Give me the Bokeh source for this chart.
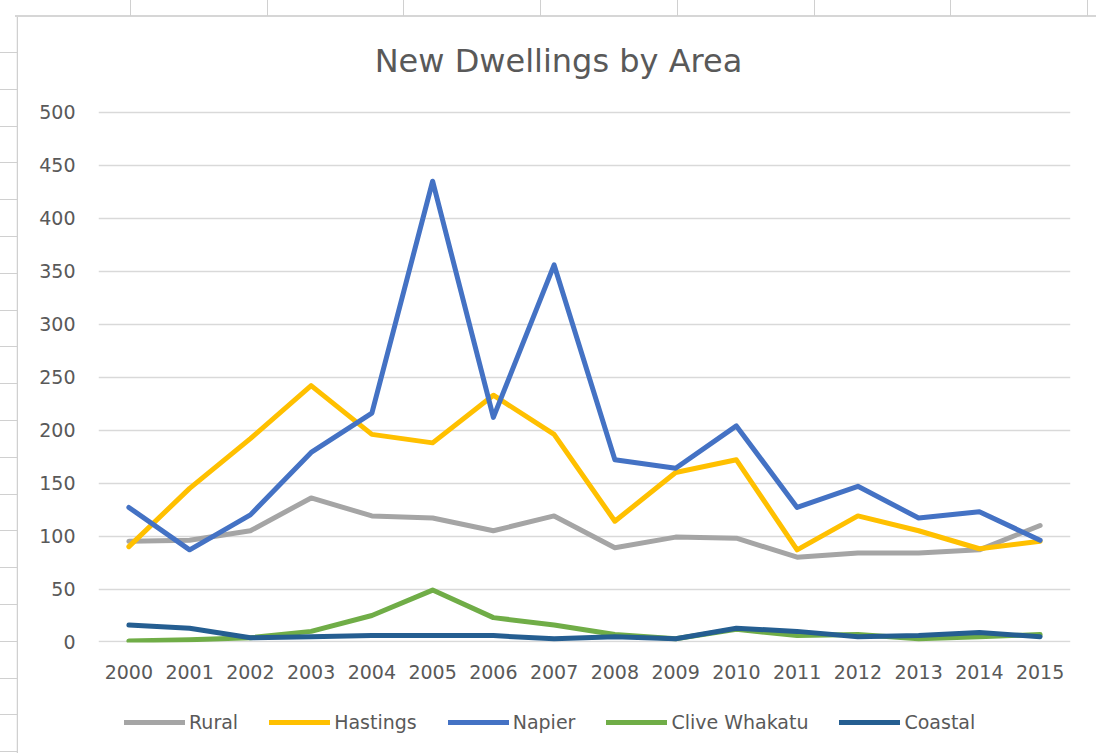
from bokeh.plotting import figure
from bokeh.models import Legend, LegendItem, Div, FixedTicker, Range1d, Label
from bokeh.layouts import column, row
from bokeh.embed import file_html
from bokeh.resources import INLINE

years = [str(y) for y in range(2000, 2016)]
rural = [95, 96, 105, 136, 119, 117, 105, 119, 89, 99, 98, 80, 84, 84, 87, 110]
hastings = [90, 145, 192, 242, 196, 188, 233, 196, 114, 160, 172, 87, 119, 105, 88, 95]
napier = [127, 87, 120, 179, 216, 435, 212, 356, 172, 164, 204, 127, 147, 117, 123, 96]
clive = [1, 2, 4, 10, 25, 49, 23, 16, 7, 3, 12, 6, 7, 3, 5, 7]
coastal = [16, 13, 4, 5, 6, 6, 6, 3, 5, 3, 13, 10, 5, 6, 9, 5]
series_names = ["Rural", "Hastings", "Napier", "Clive Whakatu", "Coastal"]
series_values = [rural, hastings, napier, clive, coastal]
series_colors = ["#A5A5A5", "#FFC000", "#4472C4", "#70AD47", "#255E91"]
y_ticks = list(range(0, 501, 50))
title_text = "New Dwellings by Area"

FONT = "DejaVu Sans"
TXT = "#595959"

# frame spans from the chart top down to the value 0; the upper part holds the title
p = figure(x_range=years, y_range=Range1d(-0.5, 589.6), width=1078, height=673,
           output_backend="svg", toolbar_location=None,
           min_border_left=80, min_border_right=26, min_border_top=0, min_border_bottom=48)
p.outline_line_color = None
p.border_fill_color = "white"
p.background_fill_color = "white"

p.add_layout(Label(text=title_text, x=460, y=582, x_units="screen", y_units="screen",
                   text_align="center", text_baseline="middle", text_font=FONT,
                   text_font_size="32px", text_color=TXT))

p.xgrid.grid_line_color = None
p.ygrid.grid_line_color = "#D9D9D9"
p.ygrid.grid_line_width = 1.3
p.yaxis.ticker = FixedTicker(ticks=y_ticks)
p.yaxis.axis_line_color = None
p.yaxis.major_tick_line_color = None
p.yaxis.minor_tick_line_color = None
p.yaxis.major_label_standoff = 17
p.xaxis.axis_line_color = None
p.xaxis.major_tick_line_color = None
p.xaxis.major_label_standoff = 16
for ax in (p.xaxis, p.yaxis):
    ax.major_label_text_font = FONT
    ax.major_label_text_font_size = "19px"
    ax.major_label_text_color = TXT

for name, vals, col in zip(series_names, series_values, series_colors):
    p.line(years, vals, line_color=col, line_width=5, line_cap="round", line_join="round")

# legend strip below the chart (its lines lie outside its visible range)
lg = figure(width=1078, height=63, x_range=p.x_range, y_range=Range1d(1000, 1001),
            x_axis_type=None, y_axis_type=None, output_backend="svg", toolbar_location=None,
            min_border=0, min_border_left=0, min_border_right=0, min_border_top=0,
            min_border_bottom=0)
lg.outline_line_color = None
lg.grid.visible = False
items = []
for name, vals, col in zip(series_names, series_values, series_colors):
    r = lg.line(years, vals, line_color=col, line_width=5, line_cap="round", line_join="round")
    items.append(LegendItem(label=name, renderers=[r]))
legend = Legend(items=items, orientation="horizontal", location=(26, 20),
                glyph_width=61, glyph_height=20, label_standoff=4, spacing=31,
                padding=0, margin=0, border_line_color=None, background_fill_alpha=0,
                label_text_font=FONT, label_text_font_size="19px", label_text_color=TXT)
lg.add_layout(legend, "center")

ln = "#D0D0D0"
top_svg = ['<svg width="1096" height="17" xmlns="http://www.w3.org/2000/svg">',
           f'<line x1="15" y1="16" x2="1096" y2="16" stroke="#C8C8C8" stroke-width="1.5"/>']
for x in [130, 267, 403, 540, 677, 814, 950, 1087]:
    top_svg.append(f'<line x1="{x}.5" y1="0" x2="{x}.5" y2="16" stroke="{ln}" stroke-width="1"/>')
top_svg.append('</svg>')
left_svg = ['<svg width="18" height="736" xmlns="http://www.w3.org/2000/svg">',
            f'<line x1="17.5" y1="0" x2="17.5" y2="736" stroke="{ln}" stroke-width="1.5"/>']
k = 0
while 35 + 36.8 * k < 736:
    y = round(35 + 36.8 * k) + 0.5
    left_svg.append(f'<line x1="0" y1="{y}" x2="17" y2="{y}" stroke="{ln}" stroke-width="1"/>')
    k += 1
left_svg.append('</svg>')
top_div = Div(text="".join(top_svg), width=1096, height=17, margin=0)
left_div = Div(text="".join(left_svg), width=18, height=736, margin=0)

layout = column(top_div, row(left_div, column(p, lg, spacing=0), spacing=0), spacing=0)
open("out.html", "w").write(file_html(layout, INLINE))
